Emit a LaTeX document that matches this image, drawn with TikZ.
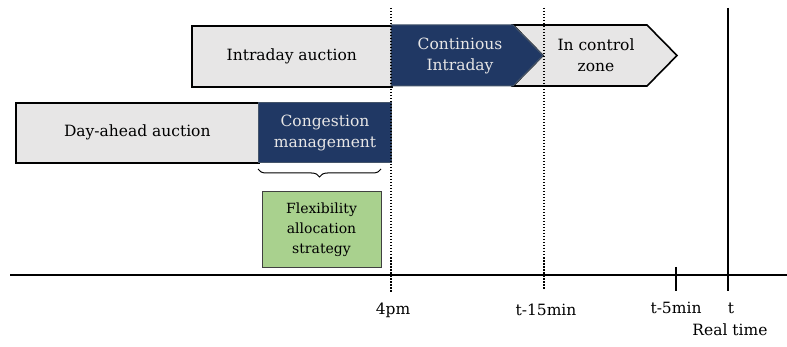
\documentclass[tikz,border=0pt]{standalone}
\usepackage{fontspec}
\setmainfont{DejaVu Serif}
\usetikzlibrary{decorations.pathreplacing}
\definecolor{boxgray}{HTML}{E7E6E6}
\definecolor{boxblue}{HTML}{203864}
\definecolor{blueedge}{HTML}{44546A}
\definecolor{boxgreen}{HTML}{A9D18E}
\begin{document}
\begin{tikzpicture}[x=1pt, y=-1pt, every node/.style={align=center, font=\fontsize{15.5}{21}\selectfont},
  graybox/.style={draw=black, line width=1.6pt, fill=boxgray},
  bluebox/.style={draw=blueedge, line width=1pt, fill=boxblue},
  tickline/.style={line width=1.5pt},
  marker/.style={line width=1.5pt, dash pattern=on 1.5pt off 1.5pt}]
\useasboundingbox (0,0) rectangle (787,347);

% time axis
\coordinate (axisstart) at (10,275);
\coordinate (axisend) at (787,275);
\draw[line width=1.2pt] (axisstart) -- (axisend);

% top row
\node (intraday) [graybox, minimum width=200pt, minimum height=61pt, anchor=north west, inner sep=0pt] at (191,25) {Intraday auction};
\draw[graybox] (513,25) -- (647,25) -- (677,55.5) -- (647,86) -- (513,86) -- (543,55.5) -- cycle;
\draw[bluebox] (391,25) -- (513,25) -- (543,55.5) -- (513,86) -- (391,86) -- cycle;
\node (continuous) [text=boxgray] at (460,55.5) {Continious\\Intraday};
\node (controlzone) at (596,55.5) {In control\\zone};

% bottom row
\node (dayahead) [graybox, minimum width=243pt, minimum height=60pt, anchor=north west, inner sep=0pt] at (15,102) {Day-ahead auction};
\node (congestion) [bluebox, text=boxgray, minimum width=133pt, minimum height=60pt, anchor=north west, inner sep=0pt] at (258,102) {Congestion\\management};
\node (flexibility) [draw=black!75, line width=1pt, fill=boxgreen, minimum width=119pt, minimum height=76pt, inner sep=0pt, font=\fontsize{14}{20}\selectfont] at (321.5,230) {Flexibility\\allocation\\strategy};
\coordinate (bracestart) at (258,169);
\coordinate (braceend) at (381,169);
\draw[decorate, decoration={brace, mirror, amplitude=8pt}, line width=1pt] (bracestart) -- (braceend);

% markers on the axis
\coordinate (fourtop) at (391,8);
\coordinate (fourbot) at (391,293);
\coordinate (fifteentop) at (544,8);
\coordinate (fifteenbot) at (544,290);
\coordinate (ttop) at (728,8);
\coordinate (tbot) at (728,291);
\coordinate (fivetop) at (676,267);
\coordinate (fivebot) at (676,291);
\draw[marker] (fourtop) -- (fourbot);
\draw[marker] (fifteentop) -- (fifteenbot);
\draw[tickline] (ttop) -- (tbot);
\draw[tickline] (fivetop) -- (fivebot);

% labels
\node (fourpm) at (393,310) {4pm};
\node (fifteen) at (546,310) {t-15min};
\node (five) at (676,308) {t-5min};
\node (tlabel) at (731,308) {t};
\node (realtime) at (730,330) {Real time};
\end{tikzpicture}
\end{document}
